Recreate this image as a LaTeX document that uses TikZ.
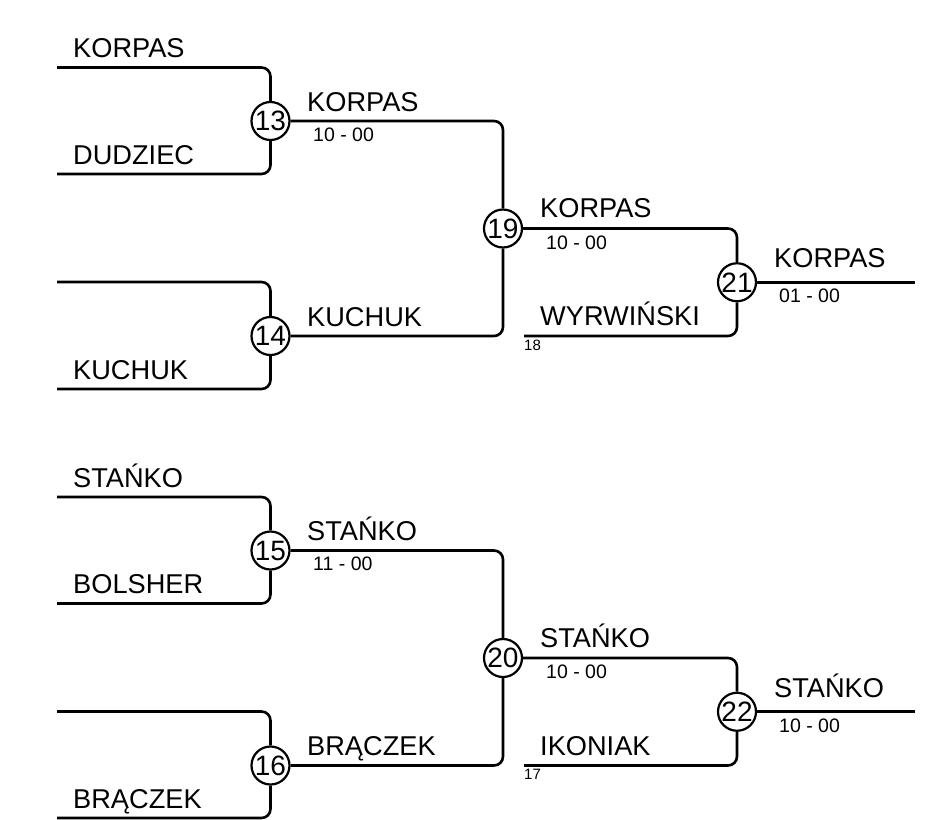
\documentclass[tikz,border=0pt]{standalone}
\usepackage{fontspec}
\setmainfont{Liberation Sans}
\begin{document}
\begin{tikzpicture}[x=1pt,y=-1pt,
  lbl/.style={font=\fontsize{27.2}{30}\selectfont, anchor=base west, inner sep=0},
  scorelbl/.style={font=\fontsize{19.5}{22}\selectfont, anchor=base west, inner sep=0},
  seedlbl/.style={font=\fontsize{15}{17}\selectfont, anchor=base west, inner sep=0},
  mnum/.style={circle, draw, line width=2.2, fill=white, minimum size=38, inner sep=0, font=\fontsize{28}{30}\selectfont},
  conn/.style={line width=2.6, rounded corners=9}]
\useasboundingbox (0,0) rectangle (930,820);
% ---------- upper half ----------
\node[mnum] (c13) at (270.5,121) {13};
\node[mnum] (c14) at (270.5,336) {14};
\node[mnum] (c19) at (503,228.5) {19};
\node[mnum] (c21) at (737,282.25) {21};
\coordinate (t13) at (57,67.5);
\coordinate (b13) at (57,174);
\coordinate (t14) at (57,282);
\coordinate (b14) at (57,389);
\coordinate (w18) at (524,336);
\coordinate (f21) at (915,282.25);
\draw[conn] (t13) -| (c13);
\draw[conn] (b13) -| (c13);
\draw[conn] (t14) -| (c14);
\draw[conn] (b14) -| (c14);
\draw[conn] (c13) -| (c19);
\draw[conn] (c14) -| (c19);
\draw[conn] (c19) -| (c21);
\draw[conn] (w18) -| (c21);
\draw[conn] (c21) -- (f21);
\node[lbl] (l1) at (73,57.5) {KORPAS};
\node[lbl] (l2) at (73,164) {DUDZIEC};
\node[lbl] (l4) at (73,379) {KUCHUK};
\node[lbl] (l13) at (307,111) {KORPAS};
\node[scorelbl] (s13) at (313,141) {10 - 00};
\node[lbl] (l14) at (307,326) {KUCHUK};
\node[lbl] (l19) at (540,217.5) {KORPAS};
\node[scorelbl] (s19) at (546,249) {10 - 00};
\node[lbl] (l18) at (540,325.5) {WYRWIŃSKI};
\node[seedlbl] (n18) at (524,350) {18};
\node[lbl] (l21) at (774,267.5) {KORPAS};
\node[scorelbl] (s21) at (779,302.5) {01 - 00};
% ---------- lower half ----------
\node[mnum] (c15) at (270.5,550.5) {15};
\node[mnum] (c16) at (270.5,765.5) {16};
\node[mnum] (c20) at (503,658) {20};
\node[mnum] (c22) at (737,711.75) {22};
\coordinate (t15) at (57,497);
\coordinate (b15) at (57,603.5);
\coordinate (t16) at (57,711.5);
\coordinate (b16) at (57,818);
\coordinate (w17) at (524,765.5);
\coordinate (f22) at (915,711.75);
\draw[conn] (t15) -| (c15);
\draw[conn] (b15) -| (c15);
\draw[conn] (t16) -| (c16);
\draw[conn] (b16) -| (c16);
\draw[conn] (c15) -| (c20);
\draw[conn] (c16) -| (c20);
\draw[conn] (c20) -| (c22);
\draw[conn] (w17) -| (c22);
\draw[conn] (c22) -- (f22);
\node[lbl] (l5) at (73,487) {STAŃKO};
\node[lbl] (l6) at (73,593.5) {BOLSHER};
\node[lbl] (l8) at (73,808) {BRĄCZEK};
\node[lbl] (l15) at (307,540.5) {STAŃKO};
\node[scorelbl] (s15) at (313,570.5) {11 - 00};
\node[lbl] (l16) at (307,755.5) {BRĄCZEK};
\node[lbl] (l20) at (540,647) {STAŃKO};
\node[scorelbl] (s20) at (546,678.5) {10 - 00};
\node[lbl] (l17) at (540,755) {IKONIAK};
\node[seedlbl] (n17) at (524,779.5) {17};
\node[lbl] (l22) at (774,697) {STAŃKO};
\node[scorelbl] (s22) at (779,732) {10 - 00};
\end{tikzpicture}
\end{document}
